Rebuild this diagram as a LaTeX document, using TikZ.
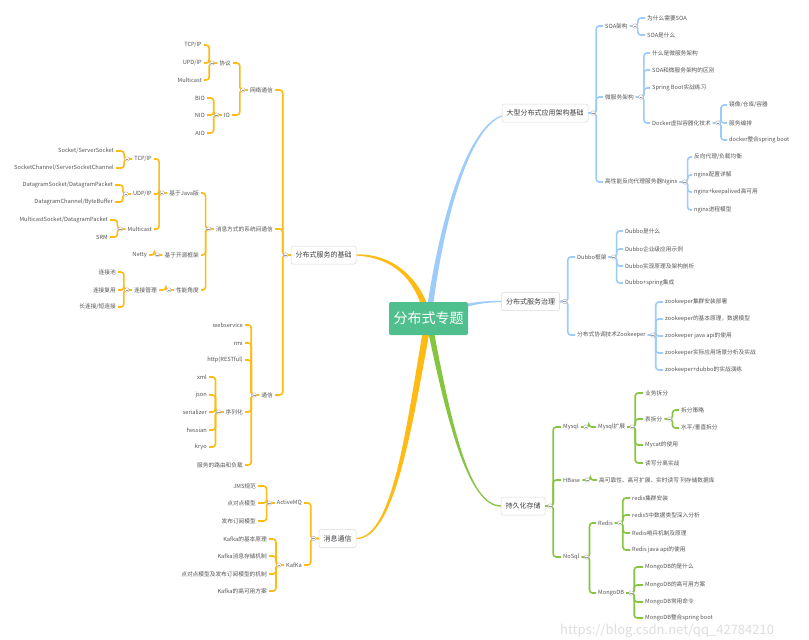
\documentclass[tikz,border=0pt]{standalone}
\usepackage{fontspec}
\setmainfont{Noto Sans CJK SC}
\usepackage{tikz}
\usetikzlibrary{calc,backgrounds}
\definecolor{orng}{HTML}{FDBB13}
\definecolor{blu}{HTML}{9DCBFA}
\definecolor{grn}{HTML}{86C540}
\definecolor{rootgrn}{HTML}{4FC08D}
\definecolor{txt}{HTML}{555555}
\newcommand\foldl[1]{\node[fold] (#1-f) at ([xshift=-5pt]#1.west) {};}
\newcommand\foldr[1]{\node[fold] (#1-f) at ([xshift=5pt]#1.east) {};}

\begin{document}
\begin{tikzpicture}[x=1pt,y=-1pt,
	leaf/.style={font=\fontsize{5.7}{6.5}\selectfont, text=txt, inner xsep=2pt, inner ysep=1pt},
	lf/.style={leaf, anchor=east},
	rt/.style={leaf, anchor=west},
	topic/.style={draw=black!15, fill=white, rounded corners=2pt, line width=0.5pt, font=\fontsize{7}{8}\selectfont, text=black!75, minimum height=18pt, inner xsep=4.5pt},
	rootbox/.style={fill=rootgrn, rounded corners=2pt, text=white, font=\fontsize{14}{16}\selectfont, minimum width=79pt, minimum height=33pt},
	fold/.style={circle, draw=black!30, fill=white, line width=0.4pt, inner sep=0pt, minimum size=4.5pt,
		path picture={\draw[black!40, line width=0.4pt] ([xshift=-1.3pt]path picture bounding box.center) -- ([xshift=1.3pt]path picture bounding box.center);}},
	lel/.style={rounded corners=3pt, to path={-- ++(-8,0) |- (\tikztotarget)}},
	rel/.style={rounded corners=3pt, to path={-- ++(8,0) |- (\tikztotarget)}},
	ob/.style={draw=orng, line width=1.6pt},
	bb/.style={draw=blu, line width=1.6pt},
	gb/.style={draw=grn, line width=1.6pt}]
		\useasboundingbox (0,0) rectangle (809,640);
		%centre and main topics
		\node[rootbox] (root) at (428.5,318.5) {分布式专题};
		\node[topic] (jc) at (323.5,255) {分布式服务的基础};
		\node[topic] (mq) at (337.5,538.5) {消息通信};
		\node[topic] (arch) at (545,113) {大型分布式应用架构基础};
		\node[topic] (gov) at (530.5,301.5) {分布式服务治理};
		\node[topic] (store) at (523,506) {持久化存储};
		%main branches
		\begin{pgfonlayer}{background}
		\fill[white] (0,0) rectangle (809,640);
		\fill[orng] ([xshift=3.5pt]root.center) .. controls (421,275) and (390,253.5) .. ([yshift=0.6pt]jc.east)
			-- ([yshift=-0.6pt]jc.east) .. controls (390,257.5) and (415,275) .. ([xshift=-3.5pt]root.center) -- cycle;
		\fill[orng] ([xshift=3.5pt]root.center) .. controls (413,420) and (396,539.5) .. ([yshift=-0.6pt]mq.east)
			-- ([yshift=0.6pt]mq.east) .. controls (394,537.5) and (407,420) .. ([xshift=-3.5pt]root.center) -- cycle;
		\fill[blu] ([xshift=3pt]root.center) .. controls (443,220) and (469,129) .. ([yshift=-3.6pt]arch.west)
			-- ([yshift=-2.4pt]arch.west) .. controls (467,127) and (439,220) .. ([xshift=-3pt]root.center) -- cycle;
		\fill[blu] ([yshift=2.5pt]root.center) .. controls (455,304) and (480,300.5) .. ([yshift=0.6pt]gov.west)
			-- ([yshift=-0.6pt]gov.west) .. controls (480,302) and (455,308) .. ([yshift=-2.5pt]root.center) -- cycle;
		\fill[grn] ([xshift=3pt]root.center) .. controls (452,430) and (470,505) .. ([yshift=0.6pt]store.west)
			-- ([yshift=-0.6pt]store.west) .. controls (470,507) and (448,430) .. ([xshift=-3pt]root.center) -- cycle;
		\end{pgfonlayer}
		%分布式服务的基础
		\node[lf] (net) at (275,90) {网络通信};
		\node[lf] (xy) at (233,63) {协议};
		\node[lf] (tcp) at (204,45) {TCP/IP};
		\node[lf] (upd) at (204,63) {UPD/IP};
		\node[lf] (mc) at (204,80) {Multicast};
		\node[lf] (io) at (232,115) {IO};
		\node[lf] (bio) at (207,98) {BIO};
		\node[lf] (nio) at (207,115) {NIO};
		\node[lf] (aio) at (207,133) {AIO};
		\node[lf] (msg) at (275,229) {消息方式的系统间通信};
		\node[lf] (java) at (201,193) {基于Java版};
		\node[lf] (jtcp) at (154,159) {TCP/IP};
		\node[lf] (sock) at (116,151) {Socket/ServerSocket};
		\node[lf] (sockch) at (116,168) {SocketChannel/ServerSocketChannel};
		\node[lf] (judp) at (154,194) {UDP/IP};
		\node[lf] (dgs) at (115,185) {DatagramSocket/DatagramPacket};
		\node[lf] (dgc) at (115,202) {DatagramChannel/ByteBuffer};
		\node[lf] (jmc) at (154,229) {Multicast};
		\node[lf] (mcs) at (110,220) {MulticastSocket/DatagramPacket};
		\node[lf] (srm) at (110,237) {SRM};
		\node[lf] (oss) at (201,255) {基于开源框架};
		\node[lf] (netty) at (149,255) {Netty};
		\node[lf] (perf) at (201,290) {性能角度};
		\node[lf] (conn) at (159,290) {连接管理};
		\node[lf] (pool) at (118,272) {连接池};
		\node[lf] (reuse) at (118,290) {连接复用};
		\node[lf] (lsc) at (118,307) {长连接/短连接};
		\node[lf] (comm) at (275,395) {通信};
		\node[lf] (ws) at (245,325) {webservice};
		\node[lf] (rmi) at (245,343) {rmi};
		\node[lf] (http) at (245,360) {http(RESTful)};
		\node[lf] (ser) at (245,412) {序列化};
		\node[lf] (xml) at (209,377) {xml};
		\node[lf] (json) at (209,395) {json};
		\node[lf] (slz) at (209,412) {serializer};
		\node[lf] (hes) at (209,430) {hessian};
		\node[lf] (kryo) at (209,447) {kryo};
		\node[lf] (route) at (245,465) {服务的路由和负载};
		%消息通信
		\node[lf] (amq) at (304,503) {ActiveMQ};
		\node[lf] (jms) at (258,486) {JMS规范};
		\node[lf] (p2p) at (258,503) {点对点模型};
		\node[lf] (pubsub) at (258,521) {发布订阅模型};
		\node[lf] (kafka) at (304,565) {KafKa};
		\node[lf] (k1) at (269,539) {Kafka的基本原理};
		\node[lf] (k2) at (269,556) {Kafka消息存储机制};
		\node[lf] (k3) at (269,574) {点对点模型及发布订阅模型的机制};
		\node[lf] (k4) at (269,591) {Kafka的高可用方案};
		%大型分布式应用架构基础
		\node[rt] (soa) at (603,26) {SOA架构};
		\node[rt] (why) at (645,18) {为什么需要SOA};
		\node[rt] (what) at (645,35) {SOA是什么};
		\node[rt] (ms) at (603,97) {微服务架构};
		\node[rt] (ms1) at (650,53) {什么是微服务架构};
		\node[rt] (ms2) at (650,70) {SOA和微服务架构的区别};
		\node[rt] (ms3) at (650,88) {Spring Boot实战练习};
		\node[rt] (docker) at (650,123) {Docker虚拟容器化技术};
		\node[rt] (d1) at (727,105) {镜像/仓库/容器};
		\node[rt] (d2) at (727,123) {服务编排};
		\node[rt] (d3) at (727,140) {docker整合spring boot};
		\node[rt] (nginx) at (603,182) {高性能反向代理服务器Nginx};
		\node[rt] (n1) at (692,157) {反向代理/负载均衡};
		\node[rt] (n2) at (692,175) {nginx配置详解};
		\node[rt] (n3) at (692,192) {nginx+keepalived高可用};
		\node[rt] (n4) at (692,210) {nginx进程模型};
		%分布式服务治理
		\node[rt] (dubbo) at (575,257) {Dubbo框架};
		\node[rt] (db1) at (623,231) {Dubbo是什么};
		\node[rt] (db2) at (623,249) {Dubbo企业级应用示例};
		\node[rt] (db3) at (623,266) {Dubbo实现原理及架构剖析};
		\node[rt] (db4) at (623,283) {Dubbo+spring集成};
		\node[rt] (zk) at (575,335) {分布式协调技术Zookeeper};
		\node[rt] (zk1) at (663,302) {zookeeper集群安装部署};
		\node[rt] (zk2) at (663,319) {zookeeper的基本原理，数据模型};
		\node[rt] (zk3) at (663,336) {zookeeper java api的使用};
		\node[rt] (zk4) at (663,353) {zookeeper实际应用场景分析及实战};
		\node[rt] (zk5) at (663,370) {zookeeper+dubbo的实战演练};
		%持久化存储
		\node[rt] (mysql) at (561,427) {Mysql};
		\node[rt] (mysqlx) at (596,427) {Mysql扩展};
		\node[rt] (m1) at (643,393) {业务拆分};
		\node[rt] (tbl) at (643,419) {表拆分};
		\node[rt] (t1) at (679,410) {拆分策略};
		\node[rt] (t2) at (679,428) {水平/垂直拆分};
		\node[rt] (m3) at (643,445) {Mycat的使用};
		\node[rt] (m4) at (643,463) {读写分离实战};
		\node[rt] (hbase) at (561,480) {HBase};
		\node[rt] (hb1) at (597,480) {高可靠性、高可扩展、实时读写 列存储数据库};
		\node[rt] (nosql) at (561,557) {NoSql};
		\node[rt] (redis) at (596,523) {Redis};
		\node[rt] (r1) at (630,498) {redis集群安装};
		\node[rt] (r2) at (630,515) {redis5中数据类型深入分析};
		\node[rt] (r3) at (630,533) {Redis哨兵机制及原理};
		\node[rt] (r4) at (630,550) {Redis java api的使用};
		\node[rt] (mongo) at (596,593) {MongoDB};
		\node[rt] (mg1) at (643,567) {MongoDB的是什么};
		\node[rt] (mg2) at (643,585) {MongoDB的高可用方案};
		\node[rt] (mg3) at (643,602) {MongoDB常用命令};
		\node[rt] (mg4) at (643,618) {MongoDB整合spring boot};
		%left links
		\draw[ob] (jc.west) edge[lel] (net.east) edge[lel] (msg.east) edge[lel] (comm.east);
		\draw[ob] (net.west) edge[lel] (xy.east) edge[lel] (io.east);
		\draw[ob] (xy.west) edge[lel] (tcp.east) edge[lel] (upd.east) edge[lel] (mc.east);
		\draw[ob] (io.west) edge[lel] (bio.east) edge[lel] (nio.east) edge[lel] (aio.east);
		\draw[ob] (msg.west) edge[lel] (java.east) edge[lel] (oss.east) edge[lel] (perf.east);
		\draw[ob] (java.west) edge[lel] (jtcp.east) edge[lel] (judp.east) edge[lel] (jmc.east);
		\draw[ob] (jtcp.west) edge[lel] (sock.east) edge[lel] (sockch.east);
		\draw[ob] (judp.west) edge[lel] (dgs.east) edge[lel] (dgc.east);
		\draw[ob] (jmc.west) edge[lel] (mcs.east) edge[lel] (srm.east);
		\draw[ob] (oss.west) edge[lel] (netty.east);
		\draw[ob] (perf.west) edge[lel] (conn.east);
		\draw[ob] (conn.west) edge[lel] (pool.east) edge[lel] (reuse.east) edge[lel] (lsc.east);
		\draw[ob] (comm.west) edge[lel] (ws.east) edge[lel] (rmi.east) edge[lel] (http.east) edge[lel] (ser.east) edge[lel] (route.east);
		\draw[ob] (ser.west) edge[lel] (xml.east) edge[lel] (json.east) edge[lel] (slz.east) edge[lel] (hes.east) edge[lel] (kryo.east);
		\draw[ob] (mq.west) edge[lel] (amq.east) edge[lel] (kafka.east);
		\draw[ob] (amq.west) edge[lel] (jms.east) edge[lel] (p2p.east) edge[lel] (pubsub.east);
		\draw[ob] (kafka.west) edge[lel] (k1.east) edge[lel] (k2.east) edge[lel] (k3.east) edge[lel] (k4.east);
		%right links
		\draw[bb] (arch.east) edge[rel] (soa.west) edge[rel] (ms.west) edge[rel] (nginx.west);
		\draw[bb] (soa.east) edge[rel] (why.west) edge[rel] (what.west);
		\draw[bb] (ms.east) edge[rel] (ms1.west) edge[rel] (ms2.west) edge[rel] (ms3.west) edge[rel] (docker.west);
		\draw[bb] (docker.east) edge[rel] (d1.west) edge[rel] (d2.west) edge[rel] (d3.west);
		\draw[bb] (nginx.east) edge[rel] (n1.west) edge[rel] (n2.west) edge[rel] (n3.west) edge[rel] (n4.west);
		\draw[bb] (gov.east) edge[rel] (dubbo.west) edge[rel] (zk.west);
		\draw[bb] (dubbo.east) edge[rel] (db1.west) edge[rel] (db2.west) edge[rel] (db3.west) edge[rel] (db4.west);
		\draw[bb] (zk.east) edge[rel] (zk1.west) edge[rel] (zk2.west) edge[rel] (zk3.west) edge[rel] (zk4.west) edge[rel] (zk5.west);
		\draw[gb] (store.east) edge[rel] (mysql.west) edge[rel] (hbase.west) edge[rel] (nosql.west);
		\draw[gb] (mysql.east) edge[rel] (mysqlx.west);
		\draw[gb] (mysqlx.east) edge[rel] (m1.west) edge[rel] (tbl.west) edge[rel] (m3.west) edge[rel] (m4.west);
		\draw[gb] (tbl.east) edge[rel] (t1.west) edge[rel] (t2.west);
		\draw[gb] (hbase.east) edge[rel] (hb1.west);
		\draw[gb] (nosql.east) edge[rel] (redis.west) edge[rel] (mongo.west);
		\draw[gb] (redis.east) edge[rel] (r1.west) edge[rel] (r2.west) edge[rel] (r3.west) edge[rel] (r4.west);
		\draw[gb] (mongo.east) edge[rel] (mg1.west) edge[rel] (mg2.west) edge[rel] (mg3.west) edge[rel] (mg4.west);
		%fold marks
		\foldl{jc} \foldl{net} \foldl{xy} \foldl{io} \foldl{msg} \foldl{java} \foldl{jtcp} \foldl{judp} \foldl{jmc}
		\foldl{oss} \foldl{perf} \foldl{conn} \foldl{comm} \foldl{ser} \foldl{mq} \foldl{amq} \foldl{kafka}
		\foldr{arch} \foldr{soa} \foldr{ms} \foldr{docker} \foldr{nginx} \foldr{gov} \foldr{dubbo} \foldr{zk}
		\foldr{store} \foldr{mysql} \foldr{mysqlx} \foldr{tbl} \foldr{hbase} \foldr{nosql} \foldr{redis} \foldr{mongo}
		%watermark
		\node[anchor=west, text=black!13, font=\fontsize{13}{14}\selectfont, inner sep=0pt] (wm) at (560,631) {https://blog.csdn.net/qq\_42784210};
\end{tikzpicture}
\end{document}
